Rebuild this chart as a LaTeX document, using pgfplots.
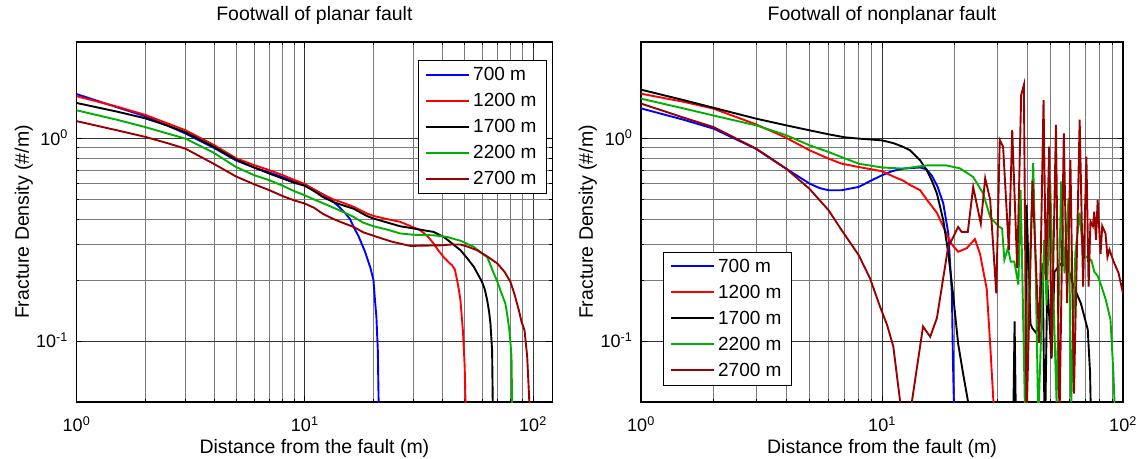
\documentclass[border=0pt]{standalone}
\usepackage{pgfplots}
\pgfplotsset{compat=1.18}
\usepackage{fontspec}
\setmainfont{Liberation Sans}

\definecolor{cblue}{rgb}{0,0,1}
\definecolor{cred}{rgb}{1,0,0}
\definecolor{cgreen}{rgb}{0,0.69,0}
\definecolor{cdred}{rgb}{0.6,0,0}

% Common look of both log-log panels
\pgfplotsset{
  curve/.style={line width=1.9pt},
  every axis/.append style={
    scale only axis,
    height=360pt,
    ymin=0.05, ymax=3,
    xmin=1,
    xtick={1,10,100},
    xticklabels={10\textsuperscript{0},10\textsuperscript{1},10\textsuperscript{2}},
    ytick={0.1,1},
    yticklabels={10\textsuperscript{-1},10\textsuperscript{0}},
    grid=both,
    major grid style={black!80, line width=0.9pt},
    minor grid style={black!52, line width=0.8pt},
    tick align=inside,
    major tick length=6pt, minor tick length=3pt,
    tick style={black, line width=0.8pt},
    axis line style={black, line width=1.3pt},
    xticklabel style={font=\fontsize{18}{20}\selectfont, anchor=base, yshift=-29.7pt, inner sep=0pt},
    yticklabel style={font=\fontsize{18}{20}\selectfont, anchor=base east, xshift=-8.5pt, yshift=-6.5pt, inner sep=0pt},
    title style={at={(axis description cs:0.5,1.0417)}, anchor=base, font=\fontsize{19.5}{22}\selectfont},
    xlabel style={at={(axis description cs:0.5,-0.1417)}, anchor=base, font=\fontsize{19.5}{22}\selectfont},
    ylabel style={at={(axis description cs:-0.1,0.5)}, anchor=base, font=\fontsize{19.5}{22}\selectfont},
    xlabel={Distance from the fault (m)},
    ylabel={Fracture Density (\#/m)},
    legend style={font=\fontsize{19}{22}\selectfont, draw=black, fill=white,
      inner xsep=7pt, inner ysep=1.5pt, row sep=0pt, cells={anchor=west},
      nodes={inner xsep=3pt, inner ysep=5.6pt}},
  },
  legend image code/.code={\draw[#1, line width=2pt] (0pt,0pt) -- (43pt,0pt);},
}

\begin{document}
\begin{tikzpicture}
\path[use as bounding box] (0,0) rectangle (1138pt,458pt);

% Planar fault footwall
\begin{loglogaxis}[at={(76.5pt,56pt)}, anchor=south west,
  width=475.8pt, xmax=121.5,
  title={Footwall of planar fault},
  legend style={at={(axis description cs:0.9884,0.95)}, anchor=north east}]
\addplot[curve, cblue] coordinates {(1,1.66) (1.5,1.43) (2,1.29) (2.5,1.16) (3,1.06) (4,0.90) (5,0.78) (6,0.72) (7,0.68) (8,0.645) (9,0.615) (10,0.59) (11,0.56) (12,0.53) (13,0.50) (14,0.465) (15,0.43) (15.8,0.40) (16.4,0.365) (17.2,0.33) (18.4,0.275) (19.4,0.23) (20,0.20) (20.3,0.16) (20.6,0.132) (20.9,0.09) (21.1,0.045)};
\addplot[curve, cred] coordinates {(1,1.62) (1.5,1.44) (2,1.31) (2.5,1.19) (3,1.10) (4,0.93) (5,0.80) (6,0.74) (7,0.698) (8,0.66) (9,0.625) (10,0.597) (11,0.56) (12,0.53) (13.4,0.50) (15,0.478) (16.4,0.46) (18.7,0.427) (20,0.415) (23,0.40) (26.2,0.388) (29,0.37) (32,0.353) (34.5,0.33) (36.7,0.303) (38.5,0.28) (40.6,0.26) (43,0.243) (44.2,0.237) (45.5,0.225) (46.5,0.20) (47.5,0.175) (48.1,0.159) (48.8,0.13) (49.4,0.109) (50.2,0.075) (50.7,0.045)};
\addplot[curve, black] coordinates {(1,1.50) (1.5,1.36) (2,1.26) (2.5,1.16) (3,1.075) (4,0.91) (5,0.787) (6,0.72) (7,0.672) (8,0.635) (9,0.605) (10,0.585) (11,0.55) (12,0.515) (13.4,0.485) (15,0.465) (16.4,0.45) (18.7,0.415) (20,0.403) (23,0.385) (26.2,0.369) (30,0.36) (33,0.353) (36.7,0.346) (40.6,0.327) (44,0.305) (48.1,0.281) (51,0.26) (55,0.233) (59.8,0.196) (61.5,0.18) (63,0.159) (64.2,0.14) (65.1,0.122) (66.2,0.09) (66.7,0.045)};
\addplot[curve, cgreen] coordinates {(1,1.38) (1.5,1.24) (2,1.14) (2.5,1.06) (3,1.0) (4,0.85) (5,0.724) (6,0.66) (7,0.623) (8,0.585) (9,0.55) (10,0.525) (11,0.50) (12,0.48) (13.4,0.455) (15,0.43) (16.4,0.41) (18,0.385) (20,0.369) (23,0.355) (26.2,0.34) (30,0.335) (36.7,0.333) (42,0.327) (48.1,0.313) (55,0.292) (60,0.27) (63,0.26) (67.3,0.216) (70,0.195) (72,0.178) (75.7,0.153) (77.5,0.13) (79.1,0.109) (80.5,0.084) (81.1,0.045)};
\addplot[curve, cdred] coordinates {(1,1.22) (1.5,1.10) (2,1.02) (2.5,0.95) (3,0.892) (4,0.75) (5,0.65) (6,0.595) (7,0.556) (8,0.52) (9,0.495) (10,0.478) (11,0.455) (12,0.425) (13.4,0.40) (15,0.38) (16.4,0.366) (18,0.345) (20.7,0.327) (24,0.31) (29,0.295) (33,0.296) (39.3,0.297) (44,0.30) (48,0.30) (52,0.292) (56.9,0.281) (62,0.265) (69.7,0.242) (75,0.22) (79.7,0.196) (83,0.17) (86.7,0.142) (89,0.125) (91.8,0.113) (94.3,0.084) (96.8,0.045)};
\legend{700 m, 1200 m, 1700 m, 2200 m, 2700 m}
\end{loglogaxis}

% Nonplanar fault footwall
\begin{loglogaxis}[at={(641pt,56pt)}, anchor=south west,
  width=482pt, xmax=100,
  title={Footwall of nonplanar fault},
  legend style={at={(axis description cs:0.0456,0.0472)}, anchor=south west}]
\addplot[curve, cblue] coordinates {(1,1.41) (1.5,1.24) (2,1.12) (3,0.89) (4,0.71) (5,0.60) (5.5,0.57) (6,0.556) (6.8,0.556) (8,0.577) (9,0.62) (10,0.659) (11,0.69) (12.25,0.711) (14.4,0.72) (15.3,0.705) (16.1,0.656) (17,0.58) (17.96,0.478) (18.84,0.34) (19.5,0.172) (19.7,0.08) (19.96,0.04)};
\addplot[curve, cred] coordinates {(1,1.667) (1.5,1.52) (2,1.406) (3,1.176) (4,1.01) (5,0.876) (6,0.797) (6.8,0.752) (8,0.724) (10,0.69) (11.14,0.65) (12.25,0.62) (13.07,0.59) (14.4,0.556) (15.33,0.50) (16.9,0.43) (18.5,0.34) (19.5,0.30) (20.7,0.276) (22.5,0.288) (24.3,0.319) (25.5,0.27) (27.2,0.181) (28.1,0.097) (29,0.05) (29.3,0.03)};
\addplot[curve, black] coordinates {(1,1.745) (1.5,1.55) (2,1.42) (3,1.255) (4,1.163) (5,1.099) (6,1.05) (7,1.015) (8,1.0) (10,0.98) (11.14,0.95) (12.25,0.91) (13.07,0.876) (14.4,0.781) (15.33,0.698) (16.1,0.62) (16.9,0.535) (17.96,0.395) (18.84,0.271) (19.7,0.172) (20.7,0.097) (21.8,0.067) (22.7,0.051) (23.2,0.03) (34.5,0.01) (35.5,0.125) (36.5,0.01) (38.8,0.01) (39.8,0.47) (41.3,0.122) (42,0.116) (43.5,0.11) (45,0.12) (46.4,0.242) (47.4,0.03) (48.5,0.2) (50.5,0.082) (52,0.22) (55,0.24) (58.8,0.235) (62.4,0.186) (66.8,0.154) (71.4,0.114) (73,0.07) (74,0.03)};
\addplot[curve, cgreen] coordinates {(1,1.575) (1.5,1.41) (2,1.30) (3,1.163) (4,1.04) (5,0.927) (6,0.859) (6.8,0.81) (8,0.752) (10,0.72) (12.25,0.711) (14.4,0.73) (15.33,0.737) (18.5,0.737) (21.07,0.713) (23.9,0.646) (26.3,0.535) (28.1,0.41) (30.5,0.368) (31.5,0.36) (32.2,0.252) (33.3,0.288) (34.2,0.247) (35.4,0.247) (36.8,0.19) (37.6,0.558) (38.4,0.16) (39.2,0.045) (40.5,0.14) (42.4,0.756) (43.5,0.2) (44.5,0.04) (47.1,0.316) (48.2,0.15) (49.9,0.60) (51.1,0.216) (53,0.05) (55.4,0.614) (57.2,0.216) (59.4,0.508) (61,0.05) (63.4,0.27) (66.1,0.43) (68.3,0.27) (70.5,0.26) (74,0.25) (76,0.22) (78.5,0.21) (81,0.19) (84.8,0.16) (88.7,0.128) (91.2,0.07) (92.5,0.045) (93,0.03)};
\addplot[curve, cdred] coordinates {(1,1.49) (1.5,1.27) (2,1.14) (3,0.893) (4,0.711) (5,0.565) (6,0.443) (6.8,0.353) (8,0.266) (8.92,0.204) (9.81,0.148) (10.5,0.12) (11.14,0.094) (11.9,0.05) (12.3,0.03) (12.9,0.03) (13.3,0.05) (14.8,0.118) (15.85,0.105) (16.9,0.13) (18.8,0.29) (20.7,0.366) (21.4,0.346) (22.7,0.346) (23.9,0.577) (25.7,0.38) (26.8,0.637) (28.1,0.50) (29.8,0.172) (30.8,0.985) (31.8,0.913) (33.6,0.282) (34.7,1.10) (36.4,0.229) (37.8,1.64) (38.8,1.84) (39.8,0.04) (42.1,0.62) (44.9,0.098) (46.8,1.55) (47.9,0.2) (49.4,0.913) (50.5,0.084) (52.7,1.17) (54.5,0.04) (56.8,1.06) (58.6,0.154) (60.5,0.785) (62.6,0.055) (66.1,1.24) (68.3,0.186) (70.5,0.815) (72,0.186) (73.3,0.39) (75,0.37) (76,0.436) (77.3,0.316) (78.5,0.498) (80.7,0.27) (82,0.37) (84.6,0.34) (86.2,0.26) (87.8,0.283) (91.4,0.247) (95.8,0.217) (100,0.172)};
\legend{700 m, 1200 m, 1700 m, 2200 m, 2700 m}
\end{loglogaxis}
\end{tikzpicture}
\end{document}
